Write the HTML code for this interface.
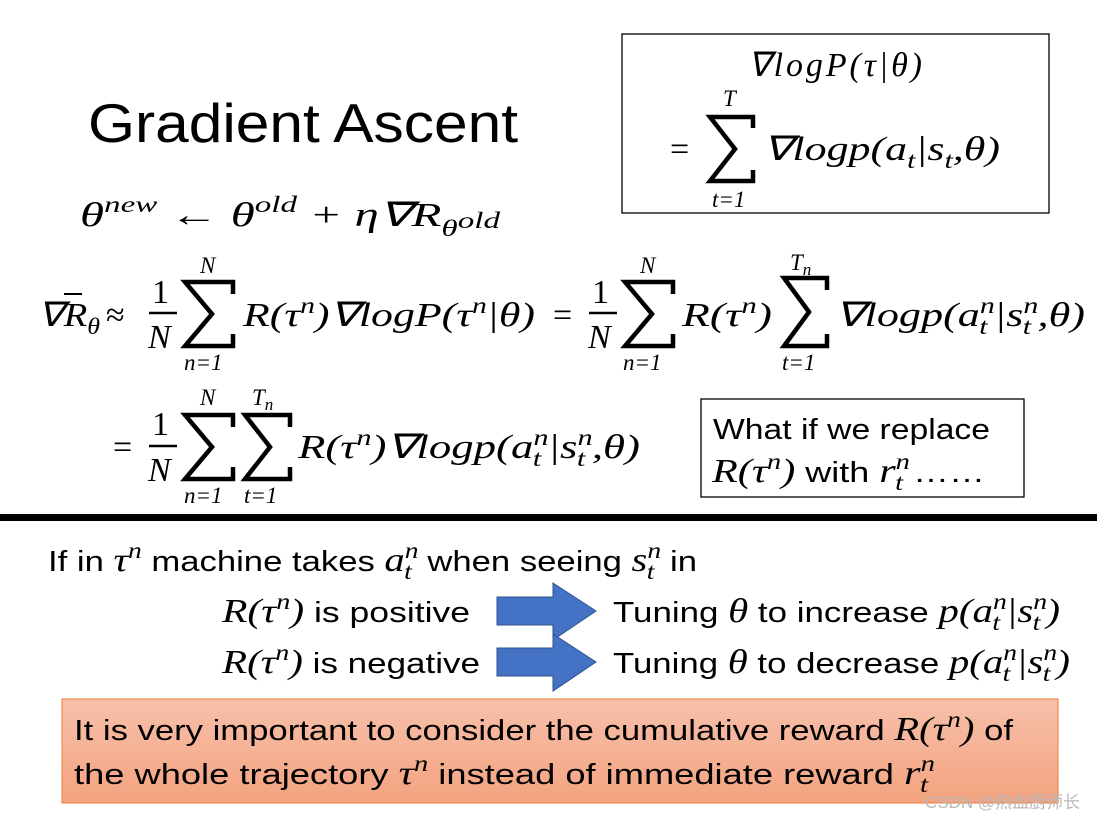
<!DOCTYPE html>
<html><head><meta charset="utf-8"><style>
html,body{margin:0;padding:0;background:#fff;width:1097px;height:822px;overflow:hidden}
svg text{fill:#000}
.m{font-family:"Liberation Serif",serif;font-style:italic;font-size:34px}
.r{font-family:"Liberation Serif",serif;font-size:34px}
.s{font-family:"Liberation Sans",sans-serif;font-size:29px}
.sm{font-family:"Liberation Serif",serif;font-style:italic;font-size:23px}
.sg{fill:none;stroke:#000;stroke-width:4.5;stroke-linejoin:miter}
</style></head><body>
<svg width="1097" height="822" viewBox="0 0 1097 822" xmlns="http://www.w3.org/2000/svg">
<text x="88" y="142" font-family="Liberation Sans,sans-serif" font-size="55" textLength="430" lengthAdjust="spacingAndGlyphs">Gradient Ascent</text>

<!-- box top right -->
<rect x="622" y="34" width="427" height="179" fill="none" stroke="#000" stroke-width="1.3"/>
<text class="m" x="748" y="76" textLength="174" lengthAdjust="spacing">∇logP(τ|θ)</text>
<text class="r" x="670" y="160">=</text>
<path class="sg" d="M753 128 L753 117 L710 117 L735 149 L710 181 L753 181 L753 170"/>
<text class="sm" x="723" y="106">T</text>
<text class="sm" x="712" y="207">t=1</text>
<text class="m" x="763" y="160" textLength="237" lengthAdjust="spacingAndGlyphs">∇logp(a<tspan class="sm" dy="8">t</tspan><tspan dy="-8">|s</tspan><tspan class="sm" dy="8">t</tspan><tspan dy="-8">,θ)</tspan></text>

<!-- theta update -->
<text class="m" x="80" y="226" textLength="420" lengthAdjust="spacingAndGlyphs">θ<tspan class="sm" dy="-14" font-size="25">new</tspan><tspan class="r" dy="14"> ← </tspan>θ<tspan class="sm" dy="-14" font-size="25">old</tspan><tspan class="r" dy="14"> + </tspan>η∇R<tspan class="sm" dy="10" font-size="25">θ</tspan><tspan class="sm" dy="-8" font-size="19">old</tspan></text>
<line x1="396" y1="204" x2="416" y2="204" stroke="#000" stroke-width="2"/>

<!-- line 3 -->
<text class="m" x="38" y="326" textLength="62" lengthAdjust="spacingAndGlyphs">∇R<tspan class="sm" dy="8">θ</tspan></text>
<line x1="64" y1="294" x2="82" y2="294" stroke="#000" stroke-width="2"/>
<text class="r" x="106" y="326">≈</text>
<text class="r" x="152" y="303">1</text>
<line x1="149" y1="313" x2="177" y2="313" stroke="#000" stroke-width="2.5"/>
<text class="m" x="148" y="348">N</text>
<path class="sg" d="M233 294 L233 282 L185 282 L212 314 L185 346 L233 346 L233 334"/>
<text class="sm" x="200" y="273">N</text>
<text class="sm" x="184" y="370">n=1</text>
<text class="m" x="243" y="326" textLength="292" lengthAdjust="spacingAndGlyphs">R(τ<tspan class="sm" dy="-13">n</tspan><tspan dy="13">)∇logP(τ</tspan><tspan class="sm" dy="-13">n</tspan><tspan dy="13">|θ)</tspan></text>
<text class="r" x="553" y="326">=</text>
<text class="r" x="592" y="303">1</text>
<line x1="589" y1="313" x2="617" y2="313" stroke="#000" stroke-width="2.5"/>
<text class="m" x="588" y="348">N</text>
<path class="sg" d="M673 294 L673 282 L625 282 L652 314 L625 346 L673 346 L673 334"/>
<text class="sm" x="640" y="273">N</text>
<text class="sm" x="623" y="370">n=1</text>
<text class="m" x="682" y="326" textLength="90" lengthAdjust="spacingAndGlyphs">R(τ<tspan class="sm" dy="-13">n</tspan><tspan dy="13">)</tspan></text>
<path class="sg" d="M827 290 L827 278 L784 278 L809 312 L784 346 L827 346 L827 334"/>
<text class="sm" x="790" y="270">T<tspan font-size="17" dy="5">n</tspan></text>
<text class="sm" x="782" y="370">t=1</text>
<text class="m" x="835" y="326" textLength="250" lengthAdjust="spacingAndGlyphs">∇logp(a<tspan class="sm" dy="-13">n</tspan><tspan class="sm" dx="-12" dy="21">t</tspan><tspan dx="5" dy="-8">|s</tspan><tspan class="sm" dy="-13">n</tspan><tspan class="sm" dx="-12" dy="21">t</tspan><tspan dx="5" dy="-8">,θ)</tspan></text>

<!-- line 4 -->
<text class="r" x="113" y="458">=</text>
<text class="r" x="152" y="435">1</text>
<line x1="149" y1="446" x2="177" y2="446" stroke="#000" stroke-width="2.5"/>
<text class="m" x="148" y="481">N</text>
<path class="sg" d="M233 427 L233 415 L185 415 L212 447 L185 479 L233 479 L233 467"/>
<text class="sm" x="200" y="405">N</text>
<text class="sm" x="184" y="503">n=1</text>
<path class="sg" d="M290 427 L290 415 L245 415 L270 447 L245 479 L290 479 L290 467"/>
<text class="sm" x="252" y="405">T<tspan font-size="17" dy="5">n</tspan></text>
<text class="sm" x="244" y="503">t=1</text>
<text class="m" x="298" y="458" textLength="342" lengthAdjust="spacingAndGlyphs">R(τ<tspan class="sm" dy="-13">n</tspan><tspan dy="13">)∇logp(a</tspan><tspan class="sm" dy="-13">n</tspan><tspan class="sm" dx="-12" dy="21">t</tspan><tspan dx="5" dy="-8">|s</tspan><tspan class="sm" dy="-13">n</tspan><tspan class="sm" dx="-12" dy="21">t</tspan><tspan dx="5" dy="-8">,θ)</tspan></text>

<!-- what if box -->
<rect x="701" y="399" width="323" height="98" fill="none" stroke="#000" stroke-width="1.3"/>
<text class="s" x="713" y="439" textLength="277" lengthAdjust="spacingAndGlyphs">What if we replace</text>
<text class="m" x="712" y="482" textLength="273" lengthAdjust="spacingAndGlyphs">R(τ<tspan class="sm" dy="-13">n</tspan><tspan dy="13">)</tspan><tspan class="s" font-style="normal"> with </tspan>r<tspan class="sm" dy="-13">n</tspan><tspan class="sm" dx="-12" dy="21">t</tspan><tspan class="s" font-style="normal" dy="-8"> ……</tspan></text>

<rect x="0" y="514" width="1097" height="7" fill="#000"/>

<text class="s" x="48" y="571" textLength="649" lengthAdjust="spacingAndGlyphs">If in <tspan class="m">τ</tspan><tspan class="sm" dy="-13">n</tspan><tspan dy="13"> machine takes </tspan><tspan class="m">a</tspan><tspan class="sm" dy="-13">n</tspan><tspan class="sm" dx="-12" dy="21">t</tspan><tspan dx="5" dy="-8"> when seeing </tspan><tspan class="m">s</tspan><tspan class="sm" dy="-13">n</tspan><tspan class="sm" dx="-12" dy="21">t</tspan><tspan dx="5" dy="-8"> in</tspan></text>
<text class="m" x="222" y="622" textLength="248" lengthAdjust="spacingAndGlyphs">R(τ<tspan class="sm" dy="-13">n</tspan><tspan dy="13">)</tspan><tspan class="s" font-style="normal"> is positive</tspan></text>
<text class="m" x="222" y="673" textLength="258" lengthAdjust="spacingAndGlyphs">R(τ<tspan class="sm" dy="-13">n</tspan><tspan dy="13">)</tspan><tspan class="s" font-style="normal"> is negative</tspan></text>
<polygon points="497,597 553,597 553,583 596,611 553,640 553,625 497,625" fill="#4472c4" stroke="#2f528f" stroke-width="1"/>
<polygon points="497,648 553,648 553,634 596,662 553,691 553,676 497,676" fill="#4472c4" stroke="#2f528f" stroke-width="1"/>
<text class="s" x="613" y="622" textLength="447" lengthAdjust="spacingAndGlyphs">Tuning <tspan class="m">θ</tspan> to increase <tspan class="m">p(a</tspan><tspan class="sm" dy="-13">n</tspan><tspan class="sm" dx="-12" dy="21">t</tspan><tspan class="m" dx="5" dy="-8">|s</tspan><tspan class="sm" dy="-13">n</tspan><tspan class="sm" dx="-12" dy="21">t</tspan><tspan class="m" dx="5" dy="-8">)</tspan></text>
<text class="s" x="613" y="673" textLength="457" lengthAdjust="spacingAndGlyphs">Tuning <tspan class="m">θ</tspan> to decrease <tspan class="m">p(a</tspan><tspan class="sm" dy="-13">n</tspan><tspan class="sm" dx="-12" dy="21">t</tspan><tspan class="m" dx="5" dy="-8">|s</tspan><tspan class="sm" dy="-13">n</tspan><tspan class="sm" dx="-12" dy="21">t</tspan><tspan class="m" dx="5" dy="-8">)</tspan></text>

<defs><linearGradient id="og" x1="0" y1="0" x2="0" y2="1"><stop offset="0" stop-color="#f7c0ab"/><stop offset="1" stop-color="#f4a37f"/></linearGradient></defs>
<rect x="62" y="699" width="996" height="104" fill="url(#og)" stroke="#ed7d31" stroke-width="1"/>
<text class="s" x="74" y="740" textLength="939" lengthAdjust="spacingAndGlyphs">It is very important to consider the cumulative reward <tspan class="m">R(τ</tspan><tspan class="sm" dy="-13">n</tspan><tspan class="m" dy="13">)</tspan> of</text>
<text class="s" x="74" y="784" textLength="861" lengthAdjust="spacingAndGlyphs">the whole trajectory <tspan class="m">τ</tspan><tspan class="sm" dy="-13">n</tspan><tspan dy="13"> instead of immediate reward </tspan><tspan class="m">r</tspan><tspan class="sm" dy="-13">n</tspan><tspan class="sm" dx="-12" dy="21">t</tspan></text>
<text x="925" y="808" font-family="Liberation Sans,'Noto Sans CJK SC',sans-serif" font-size="17" style="fill:#b8b8b8">CSDN @热血厨师长</text>
</svg>
</body></html>
